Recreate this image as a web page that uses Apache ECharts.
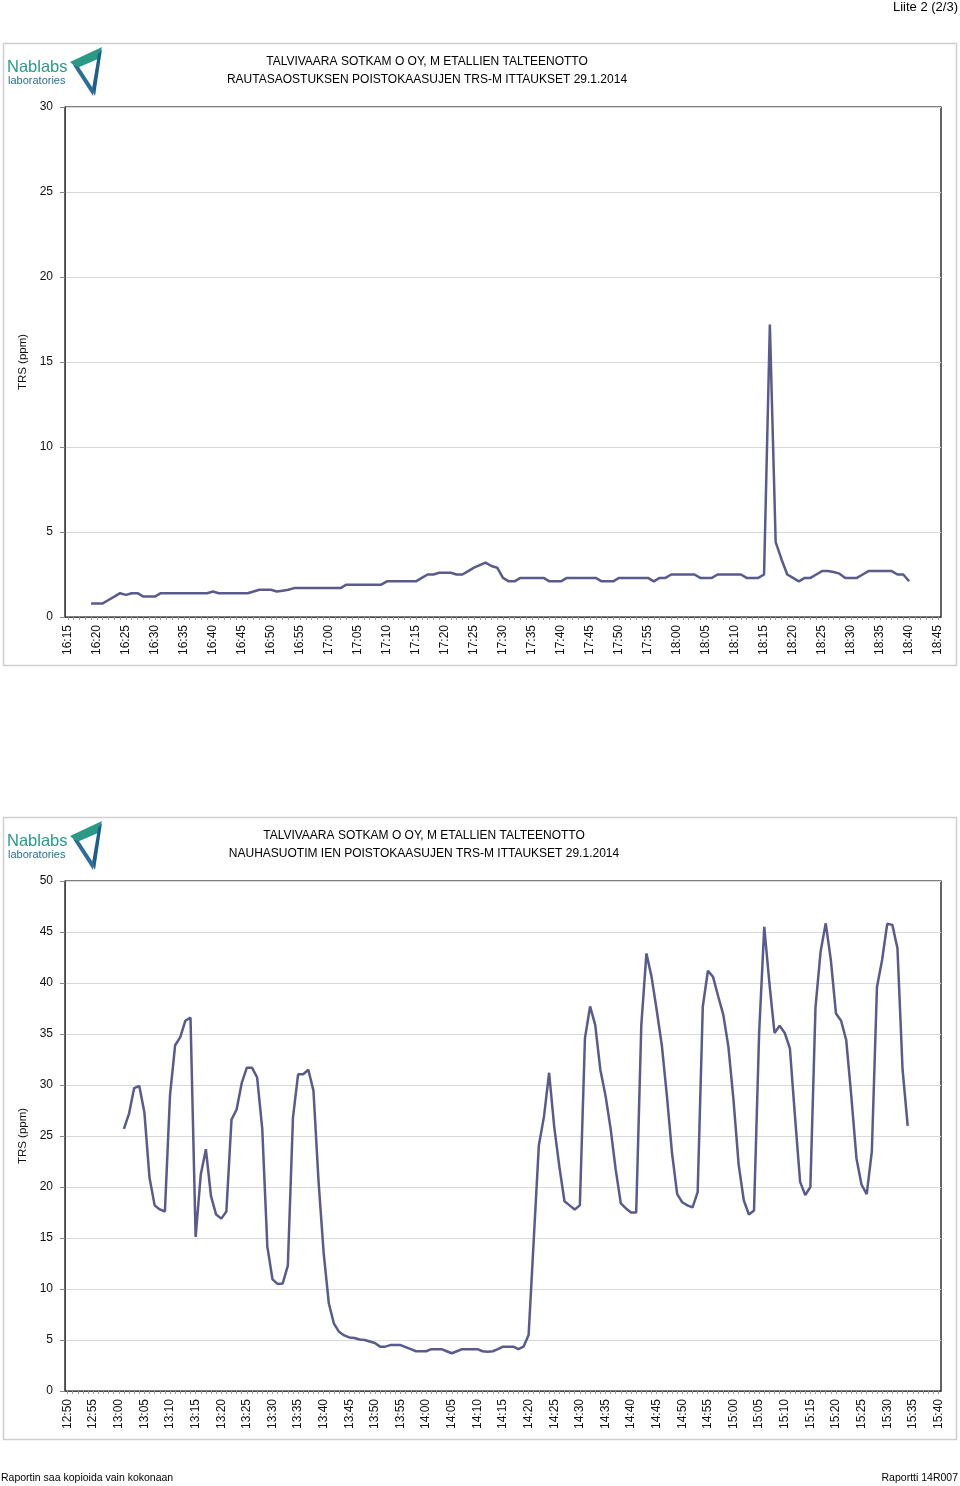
<!DOCTYPE html>
<html>
<head>
<meta charset="utf-8">
<script src="https://cdn.jsdelivr.net/npm/echarts@6/dist/echarts.min.js"></script>
<style>
html,body{margin:0;padding:0;background:#fff;}
#c{width:960px;height:1486px;}
</style>
</head>
<body>
<div id="c"></div>
<script>
// ---- categories (one per minute) ----
function minuteRange(h, m, count) {
  var out = [];
  for (var i = 0; i < count; i++) {
    var t = h * 60 + m + i;
    var hh = Math.floor(t / 60), mm = t % 60;
    out.push(hh + ':' + (mm < 10 ? '0' : '') + mm);
  }
  return out;
}
var categories1 = minuteRange(16, 15, 151); // 16:15 .. 18:45
var categories2 = minuteRange(12, 50, 171); // 12:50 .. 15:40

// ---- chart 1 values (TRS ppm), RAUTASAOSTUS ----
var trs1 = [
  null, null, null, null,
  0.8, 0.8, 0.8, 1.0, 1.2, 1.4,
  1.3, 1.4, 1.4, 1.2, 1.2, 1.2,
  1.4, 1.4, 1.4, 1.4, 1.4, 1.4, 1.4, 1.4, 1.4,
  1.5,
  1.4, 1.4, 1.4, 1.4, 1.4, 1.4,
  1.5, 1.6, 1.6, 1.6,
  1.5, 1.55, 1.6,
  1.7, 1.7, 1.7, 1.7, 1.7, 1.7, 1.7, 1.7, 1.7,
  1.9, 1.9, 1.9, 1.9, 1.9, 1.9, 1.9,
  2.1, 2.1, 2.1, 2.1, 2.1, 2.1,
  2.3, 2.5, 2.5, 2.6, 2.6, 2.6, 2.5, 2.5, 2.7,
  2.9, 3.05, 3.2, 3.0, 2.9, 2.3, 2.1, 2.1,
  2.3, 2.3, 2.3, 2.3, 2.3,
  2.1, 2.1, 2.1,
  2.3, 2.3, 2.3, 2.3, 2.3, 2.3,
  2.1, 2.1, 2.1,
  2.3, 2.3, 2.3, 2.3, 2.3, 2.3,
  2.1,
  2.3, 2.3,
  2.5, 2.5, 2.5, 2.5, 2.5,
  2.3, 2.3, 2.3,
  2.5, 2.5, 2.5, 2.5, 2.5,
  2.3, 2.3, 2.3,
  2.5, 17.2, 4.4, 3.4, 2.5,
  2.3, 2.1, 2.3, 2.3, 2.5, 2.7, 2.7, 2.65, 2.55,
  2.3, 2.3, 2.3,
  2.5,
  2.7, 2.7, 2.7, 2.7, 2.7,
  2.5, 2.5, 2.1,
  null, null, null, null, null
];

// ---- chart 2 values (TRS ppm), NAUHASUOTIMIEN ----
var trs2 = [
  null, null, null, null, null, null, null, null, null, null, null,
  25.7, 27.2, 29.7, 29.9, 27.3, 20.9, 18.2, 17.8, 17.6,
  29.0, 33.9, 34.7, 36.3, 36.6, 15.1, 21.2, 23.7, 19.1, 17.3,
  16.9, 17.6, 26.6, 27.6, 30.2, 31.7, 31.7, 30.75, 25.75, 14.15,
  10.95, 10.5, 10.55, 12.3, 26.8, 31.05, 31.05, 31.5, 29.45, 20.5,
  13.5, 8.6, 6.6, 5.8, 5.45, 5.25, 5.2, 5.05, 5.0, 4.85,
  4.7, 4.35, 4.35, 4.5, 4.5, 4.5, 4.3, 4.1, 3.9, 3.9,
  3.9, 4.1, 4.1, 4.1, 3.9, 3.7, 3.9, 4.1, 4.1, 4.1,
  4.1, 3.9, 3.85, 3.9, 4.1, 4.35, 4.35, 4.35, 4.1, 4.35,
  5.5, 14.8, 24.1, 26.9, 31.2, 25.9, 22.0, 18.6, 18.2, 17.8,
  18.2, 34.6, 37.7, 35.9, 31.5, 29.0, 25.75, 21.7, 18.4, 17.9,
  17.5, 17.5, 35.9, 42.9, 40.6, 37.35, 33.9, 28.9, 23.3, 19.3,
  18.5, 18.2, 18.0, 19.5, 37.7, 41.2, 40.6, 38.7, 36.9, 33.75,
  28.5, 22.2, 18.7, 17.3, 17.7, 35.1, 45.5, 40.0, 35.1, 35.8,
  35.1, 33.6, 26.9, 20.5, 19.2, 20.0, 37.6, 43.1, 45.85, 42.25,
  37.0, 36.3, 34.4, 28.85, 22.8, 20.2, 19.3, 23.5, 39.6, 42.25,
  45.8, 45.7, 43.4, 31.5, 26.0,
  null, null, null, null, null, null
];

// ---- axis settings ----
var yMax1 = 30, yStep1 = 5;
var yMax2 = 50, yStep2 = 5;
var yName = 'TRS (ppm)';
var titles1 = ['TALVIVAARA SOTKAM O OY, M ETALLIEN TALTEENOTTO', 'RAUTASAOSTUKSEN POISTOKAASUJEN TRS-M ITTAUKSET 29.1.2014'];
var titles2 = ['TALVIVAARA SOTKAM O OY, M ETALLIEN TALTEENOTTO', 'NAUHASUOTIM IEN POISTOKAASUJEN TRS-M ITTAUKSET 29.1.2014'];

var FONT = "'Liberation Sans', Arial, Helvetica, sans-serif";
var LINE_COLOR = '#5a5a8c';

function xAxisCfg(gi, cats) {
  return {
    type: 'category', gridIndex: gi, data: cats, boundaryGap: true,
    axisLine: {show: true, lineStyle: {color: '#444', width: 1}},
    axisTick: {show: true, interval: 0, alignWithLabel: true, length: 3, lineStyle: {color: '#999'}},
    axisLabel: {interval: 4, rotate: 90, margin: 8, fontSize: 12, color: '#111', fontFamily: FONT},
    splitLine: {show: false}
  };
}
function yAxisCfg(gi, max, step) {
  return {
    type: 'value', gridIndex: gi, min: 0, max: max, interval: step,
    name: yName, nameLocation: 'middle', nameGap: 35, nameRotate: 90,
    nameTextStyle: {fontSize: 11.5, color: '#111', fontFamily: FONT},
    axisLine: {show: true, lineStyle: {color: '#444', width: 1}},
    axisTick: {show: true, length: 5, lineStyle: {color: '#888'}},
    axisLabel: {margin: 12, fontSize: 12, color: '#111', fontFamily: FONT},
    splitLine: {show: true, lineStyle: {color: '#d9d9d9', width: 1}}
  };
}

function logo(y0) {
  return [
    {type: 'text', style: {text: 'Nablabs', x: 7, y: y0 + 11, font: '16.5px ' + FONT, fill: '#2a9a86'}},
    {type: 'text', style: {text: 'laboratories', x: 8, y: y0 + 27, font: '11px ' + FONT, fill: '#2b6f98'}},
    {type: 'polygon', shape: {points: [[70, y0 + 14], [102, y0 - 1], [98, y0 + 11], [77, y0 + 20]]}, style: {fill: '#2a9a86'}},
    {type: 'polygon', shape: {points: [[98, y0 + 6], [102, y0 + 1], [95, y0 + 48], [92, y0 + 41]]}, style: {fill: '#1f5e8a'}},
    {type: 'polygon', shape: {points: [[73, y0 + 17], [79, y0 + 19], [94, y0 + 42], [93, y0 + 48]]}, style: {fill: '#2b6f98'}}
  ];
}
function titleText(lines, cx, y) {
  return lines.map(function (t, i) {
    return {type: 'text', style: {text: t, x: cx, y: y + i * 18, align: 'center', verticalAlign: 'middle', font: '12px ' + FONT, fill: '#000'}};
  });
}

var graphics = [
  {type: 'text', style: {text: 'Liite 2 (2/3)', x: 958, y: 7, align: 'right', verticalAlign: 'middle', font: '13px ' + FONT, fill: '#000'}},
  {type: 'rect', shape: {x: 3.5, y: 43.5, width: 953, height: 622}, style: {fill: 'none', stroke: '#cfcfcf', lineWidth: 1.5}, z: -1},
  {type: 'rect', shape: {x: 3.5, y: 817.5, width: 953, height: 622}, style: {fill: 'none', stroke: '#cfcfcf', lineWidth: 1.5}, z: -1},
  {type: 'text', style: {text: 'Raportin saa kopioida vain kokonaan', x: 1, y: 1478, verticalAlign: 'middle', font: '10.5px ' + FONT, fill: '#000'}},
  {type: 'text', style: {text: 'Raportti 14R007', x: 958, y: 1478, align: 'right', verticalAlign: 'middle', font: '10.5px ' + FONT, fill: '#000'}}
].concat(logo(48), logo(822), titleText(titles1, 427, 62), titleText(titles2, 424, 836));

var chart = echarts.init(document.getElementById('c'), null, {renderer: 'canvas'});
chart.setOption({
  animation: false,
  backgroundColor: '#fff',
  textStyle: {fontFamily: FONT},
  grid: [
    {left: 65, top: 107, width: 876, height: 510, show: true, borderColor: '#000', borderWidth: 1.2, backgroundColor: 'transparent'},
    {left: 65, top: 881, width: 876, height: 510, show: true, borderColor: '#000', borderWidth: 1.2, backgroundColor: 'transparent'}
  ],
  xAxis: [xAxisCfg(0, categories1), xAxisCfg(1, categories2)],
  yAxis: [yAxisCfg(0, yMax1, yStep1), yAxisCfg(1, yMax2, yStep2)],
  series: [
    {type: 'line', xAxisIndex: 0, yAxisIndex: 0, data: trs1, symbol: 'none', connectNulls: false,
     lineStyle: {color: LINE_COLOR, width: 2.5}, itemStyle: {color: LINE_COLOR}},
    {type: 'line', xAxisIndex: 1, yAxisIndex: 1, data: trs2, symbol: 'none', connectNulls: false,
     lineStyle: {color: LINE_COLOR, width: 2.5}, itemStyle: {color: LINE_COLOR}}
  ],
  graphic: graphics
});
</script>
</body>
</html>
